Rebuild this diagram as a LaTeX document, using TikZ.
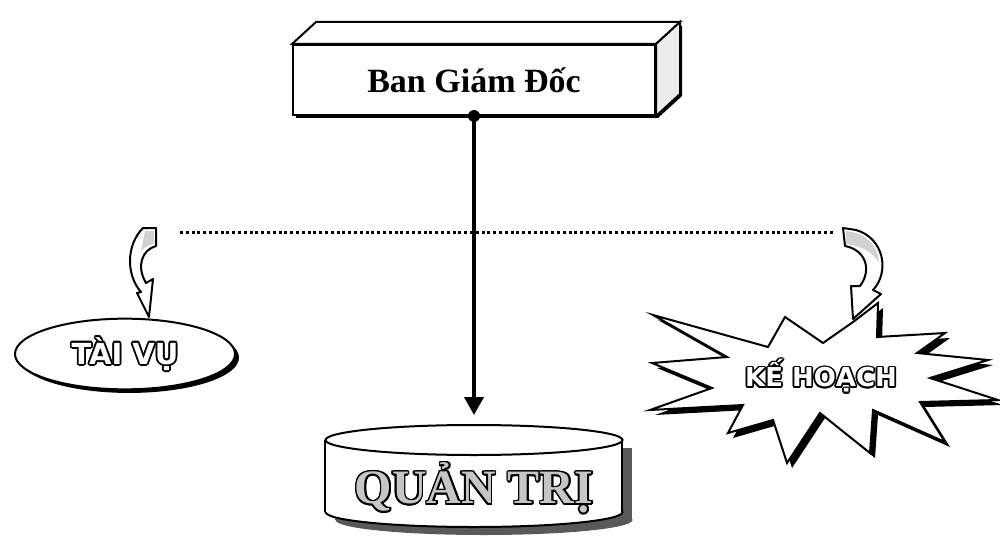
\documentclass[tikz,border=0pt]{standalone}
\usepackage{fontspec}
\setmainfont{Liberation Serif}
\newfontfamily\roundfont{DejaVu Sans}
\usetikzlibrary{arrows.meta, shapes.geometric, shadows, positioning}
\tikzset{x=0.5pt, y=-0.5pt, >={Triangle[length=9pt, width=9.5pt]}}

% Hollow letters: black copies round the text, coloured text on top
\newcommand\hollow[3][0.8pt]{%
    \foreach \ang in {0,30,...,330}{%
        \pgfmathsetmacro\hx{#1*cos(\ang)}%
        \pgfmathsetmacro\hy{#1*sin(\ang)}%
        \rlap{\kern\hx pt\raisebox{\hy pt}{\textcolor{black}{#3}}}}%
    \textcolor{#2}{#3}}

\begin{document}
\begin{tikzpicture}
% Style
[
    line join=miter,
    outline/.style={line width=1pt},
    boss box/.style={outline, draw, fill=white, minimum width=181pt, minimum height=35pt,
        font=\bfseries\fontsize{17}{20}\selectfont},
    dept oval/.style={outline, ellipse, draw, fill=white, minimum width=110pt, minimum height=33pt,
        drop shadow={shadow xshift=2pt, shadow yshift=-1.8pt, fill=black, opacity=1},
        font=\roundfont\bfseries\fontsize{14.5}{17}\selectfont},
    burst text/.style={font=\roundfont\bfseries\fontsize{13}{15}\selectfont},
    drum text/.style={font=\bfseries\fontsize{24}{28}\selectfont},
    dotted line/.style={line width=1.5pt, dash pattern=on 1.5pt off 1.4pt},
    main line/.style={line width=2pt},
    ribbon/.style={outline, fill=white, line join=round},
    ribbon shade/.style={fill=gray!35}
]

% Define: Burst outline
\def\burstpath{
    (653,315) -- (768,347) -- (785,317) -- (823,343) -- (853,322) -- (878,303) --
    (877,337) -- (945,333) -- (917,353) -- (988,360) -- (930,378) -- (998,400) --
    (920,402) -- (945,442) -- (873,410) -- (870,453) -- (820,413) -- (787,463) --
    (773,420) -- (728,433) -- (743,405) -- (650,410) -- (712,388) -- (652,363) --
    (727,357) -- cycle
}

%=================================== Start ===================================
{
    \useasboundingbox (0,0) rectangle (1000,540);

    % Draw: Ban Giam Doc box
    \coordinate (boss pos) at (474,80);
    \fill[black] ([shift={(-178,38)}]boss pos) -- ([shift={(184,38)}]boss pos)
        -- ([shift={(208,16)}]boss pos) -- ([shift={(208,-54)}]boss pos)
        -- ([shift={(-154,-54)}]boss pos) -- ([shift={(-178,-32)}]boss pos) -- cycle;
    \node[boss box] (boss) at (boss pos) {Ban Giám Đốc};
    \filldraw[outline, fill=white] (boss.north west) -- ([shift={(24,-22)}]boss.north west)
        -- ([shift={(24,-22)}]boss.north east) -- (boss.north east) -- cycle;
    \filldraw[outline, fill=gray!15] (boss.north east) -- ([shift={(24,-22)}]boss.north east)
        -- ([shift={(24,-22)}]boss.south east) -- (boss.south east) -- cycle;

    % Draw: Dotted branch line
    \coordinate (branch left) at (180,232);
    \coordinate (branch right) at (835,232);
    \draw[dotted line] (branch left) -- (branch right);

    % Draw: Left ribbon arrow
    \filldraw[ribbon] (143,228) -- (156,228) -- (156,246)
        .. controls (142,250) and (136,266) .. (146,283) -- (153,279) -- (149,317)
        -- (137,293) -- (141,292) .. controls (126,275) and (126,245) .. (143,228) -- cycle;
    \fill[ribbon shade] (145,231) -- (154,231) -- (154,244)
        .. controls (148,245) and (144,248) .. (141,251) -- cycle;

    % Draw: Tai Vu oval
    \node[dept oval] (taivu) at (125,354) {\hollow[0.9pt]{white}{TÀI VỤ}};

    % Draw: Ke Hoach burst
    \fill[black, shift={(5,5)}] \burstpath;
    \filldraw[outline, fill=white] \burstpath;
    \node[burst text] (kehoach) at (821,376) {\hollow[0.9pt]{white}{KẾ HOẠCH}};

    % Draw: Right ribbon arrow
    \filldraw[ribbon] (843,228) -- (856,230) .. controls (884,238) and (890,272) .. (873,290)
        -- (881,294) -- (853,319) -- (851,286) -- (860,286)
        .. controls (872,270) and (866,250) .. (845,246) -- cycle;
    \fill[ribbon shade] (846,231) -- (856,233) .. controls (872,238) and (878,250) .. (879,262)
        .. controls (870,250) and (860,246) .. (846,244) -- cycle;

    % Draw: Quan Tri drum
    \fill[black!65] (335,448) rectangle (632,520);
    \fill[black!65] (484,520) ellipse [x radius=148.5, y radius=15];
    \filldraw[outline, fill=white] (474,512) ellipse [x radius=148.5, y radius=15];
    \fill[white] (325,440) rectangle (622,512);
    \draw[outline] (325,440) -- (325,512) (622,440) -- (622,512);
    \filldraw[outline, fill=white] (474,440) ellipse [x radius=148.5, y radius=15];
    \node[drum text] (quantri) at (474,488) {\hollow[0.8pt]{gray!45}{QUẢN TRỊ}};
    \coordinate (drum top) at (474,415);

    % Draw: Main connector
    \draw[main line, ->] (boss.south) -- (drum top);
    \fill (boss.south) circle [radius=3pt];
}
%==================================== END ====================================
\end{tikzpicture}
\end{document}
